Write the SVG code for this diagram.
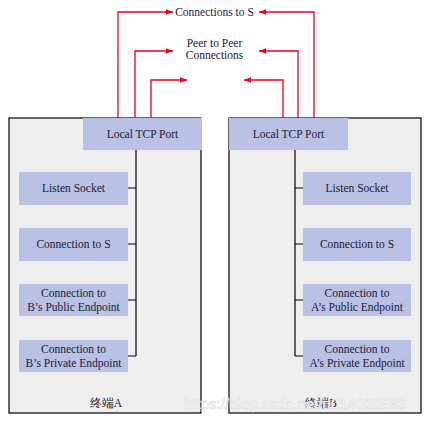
<svg xmlns="http://www.w3.org/2000/svg" width="428" height="423" viewBox="0 0 428 423">
<style>
text{font-family:"Liberation Serif","Times New Roman",serif;font-size:11.5px;fill:#1a1a33;text-anchor:middle}
.outer{fill:#efefef;stroke:#000;stroke-width:1.2}
.box{fill:#b9c2e5}
.red{fill:none;stroke:#e8001c;stroke-width:1.3}
.blk{fill:none;stroke:#000;stroke-width:1.2}
.wm{font-family:"Liberation Sans",Arial,sans-serif;font-size:15px;fill:#ffffff;stroke:#d8d8d8;stroke-width:0.5;text-anchor:start}
</style>
<defs>
<marker id="ah" viewBox="0 0 10 10" refX="10" refY="5" markerWidth="7" markerHeight="7" markerUnits="userSpaceOnUse" orient="auto">
<path d="M0,1 L10,5 L0,9 z" fill="#e8001c"/>
</marker>
</defs>
<g id="terminalA">
<rect class="outer" x="9" y="118" width="192" height="295"/>
<text x="106" y="407" font-family="'Liberation Serif','Noto Sans CJK SC',serif">终端A</text>
</g>
<g id="terminalB">
<rect class="outer" x="229" y="118" width="192" height="295"/>
<text x="321" y="407" font-family="'Liberation Serif','Noto Sans CJK SC',serif">终端B</text>
</g>
<text class="wm" x="184" y="409">https://blog.csdn.net/u014023993</text>
<g id="connectors">
<path class="red" d="M118,118 V12 H173" marker-end="url(#ah)"/>
<path class="red" d="M135,118 V51 H173" marker-end="url(#ah)"/>
<path class="red" d="M151,118 V80 H187" marker-end="url(#ah)"/>
<path class="red" d="M314,118 V12 H259" marker-end="url(#ah)"/>
<path class="red" d="M298,118 V51 H259" marker-end="url(#ah)"/>
<path class="red" d="M283,118 V80 H244" marker-end="url(#ah)"/>
<path class="blk" d="M136,150 V356 M127,188 H136 M127,244 H136 M127,300 H136 M127,356 H136"/>
<path class="blk" d="M295,150 V356 M295,188 H303 M295,244 H303 M295,300 H303 M295,356 H303"/>
</g>
<g id="connS"><text x="214.5" y="16">Connections to S</text></g>
<g id="p2p"><text x="214.5" y="47">Peer to Peer</text><text x="214.5" y="59">Connections</text></g>
<g id="portA"><rect class="box" x="83" y="118" width="119" height="32"/><text x="142.5" y="138">Local TCP Port</text></g>
<g id="portB"><rect class="box" x="229" y="118" width="119" height="32"/><text x="288.5" y="138">Local TCP Port</text></g>
<g id="listenA"><rect class="box" x="19" y="172" width="109" height="33"/><text x="73.5" y="192">Listen Socket</text></g>
<g id="connSA"><rect class="box" x="19" y="228" width="109" height="33"/><text x="73.5" y="248">Connection to S</text></g>
<g id="pubA"><rect class="box" x="19" y="284" width="109" height="32"/><text x="73.5" y="297">Connection to</text><text x="73.5" y="311">B’s Public Endpoint</text></g>
<g id="privA"><rect class="box" x="19" y="340" width="109" height="32"/><text x="73.5" y="353">Connection to</text><text x="73.5" y="367">B’s Private Endpoint</text></g>
<g id="listenB"><rect class="box" x="303" y="172" width="108" height="33"/><text x="357" y="192">Listen Socket</text></g>
<g id="connSB"><rect class="box" x="303" y="228" width="108" height="33"/><text x="357" y="248">Connection to S</text></g>
<g id="pubB"><rect class="box" x="303" y="284" width="108" height="32"/><text x="357" y="297">Connection to</text><text x="357" y="311">A’s Public Endpoint</text></g>
<g id="privB"><rect class="box" x="303" y="340" width="108" height="32"/><text x="357" y="353">Connection to</text><text x="357" y="367">A’s Private Endpoint</text></g>
</svg>
